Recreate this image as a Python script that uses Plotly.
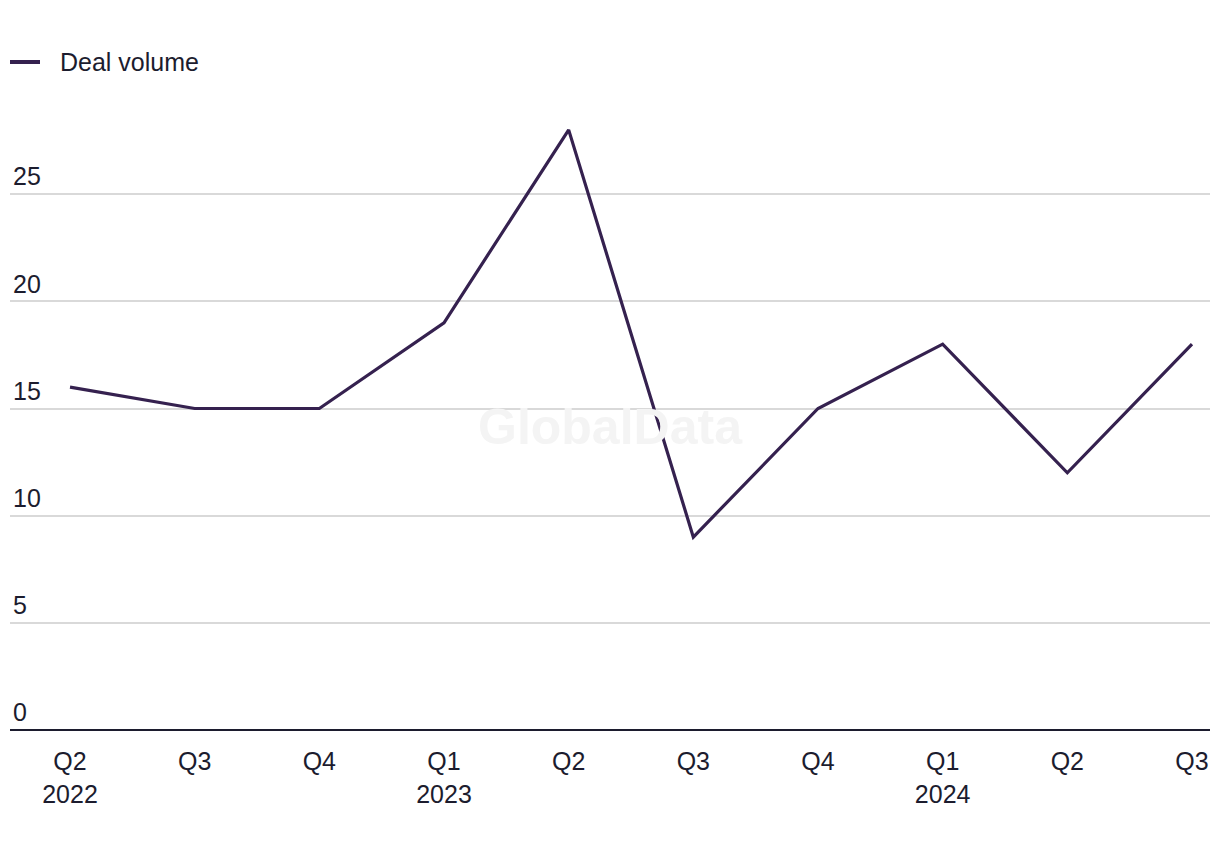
import plotly.graph_objects as go

quarters = ["Q2<br>2022", "Q3", "Q4", "Q1<br>2023", "Q2", "Q3", "Q4", "Q1<br>2024", "Q2", "Q3"]
deal_volume = [16, 15, 15, 19, 28, 9, 15, 18, 12, 18]
y_ticks = [0, 5, 10, 15, 20, 25]
series_name = "Deal volume"

x_idx = list(range(len(quarters)))
FONT = "Liberation Sans, Arial, sans-serif"
TXT = "#1c1c2e"
LINE = "#35214f"

# page body has an 8px margin; compensate so the plot lands where the reference has it
W, H = 1204, 834
L, R, T, B = 2, 2, 79, 112
PW, PH = W - L - R, H - T - B

fig = go.Figure()
fig.add_trace(go.Scatter(
    x=x_idx, y=deal_volume, mode="lines", name=series_name,
    line=dict(color=LINE, width=3.2), showlegend=False,
))

# watermark
fig.add_annotation(
    text="<b>GlobalData</b>", xref="paper", yref="paper", x=0.5, y=0.471,
    showarrow=False, font=dict(family=FONT, size=50, color="#f4f4f4"),
)

# legend drawn at the top-left (sample line + label)
leg_y = 1 + (87 - 62) / PH
fig.add_shape(type="line", xref="paper", yref="paper",
              x0=0, x1=30 / PW, y0=leg_y, y1=leg_y,
              line=dict(color=LINE, width=4))
fig.add_annotation(text=series_name, xref="paper", yref="paper",
                   x=48 / PW, y=leg_y, xanchor="left", yanchor="middle",
                   showarrow=False, font=dict(family=FONT, size=25, color=TXT))

fig.update_layout(
    width=W, height=H,
    margin=dict(l=L, r=R, t=T, b=B, pad=0),
    paper_bgcolor="white", plot_bgcolor="white",
    font=dict(family=FONT, size=25, color=TXT),
    showlegend=False,
    xaxis=dict(
        range=[-60 / 124.67, 9 + 18 / 124.67],
        tickmode="array", tickvals=x_idx, ticktext=quarters,
        showgrid=False, zeroline=False, showline=False, ticks="",
        tickfont=dict(size=25, color=TXT), automargin=False,
        ticklabelstandoff=14,
    ),
    yaxis=dict(
        range=[0, 30], tickmode="array", tickvals=y_ticks,
        ticklabelposition="inside top", ticks="",
        showgrid=True, gridcolor="#d9d9d9", gridwidth=1.5,
        zeroline=True, zerolinecolor="#1c1c2e", zerolinewidth=2,
        showline=False, tickfont=dict(size=25, color=TXT), automargin=False,
    ),
)

fig.write_html("out.html")
